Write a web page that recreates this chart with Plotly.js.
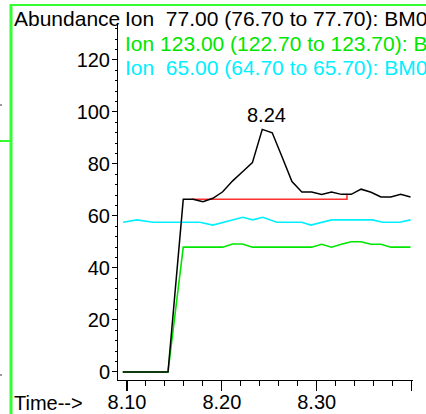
<!DOCTYPE html>
<html>
<head>
<meta charset="utf-8">
<script src="https://cdn.plot.ly/plotly-3.0.1.min.js"></script>
<style>
html,body{margin:0;padding:0;background:#fff;overflow:hidden;}
#chart{width:426px;height:414px;}
</style>
</head>
<body>
<div id="chart"></div>
<script>
// Retention times (min) and abundances
var timeIon77 = [8.0955, 8.1432, 8.1593, 8.1697, 8.1801, 8.1905, 8.2009, 8.2114, 8.2218, 8.2322, 8.2426, 8.2531, 8.2635, 8.2739, 8.2843, 8.2947, 8.3052, 8.3156, 8.3260, 8.3364, 8.3468, 8.3573, 8.3677, 8.3781, 8.3885, 8.3989];
var abundIon77 = [0, 0, 66.4, 66.4, 65.5, 66.8, 69.3, 73.5, 77.0, 80.5, 93.3, 92.0, 82.7, 73.2, 69.2, 69.2, 68.3, 69.2, 68.3, 68.3, 70.3, 69.1, 67.3, 67.3, 68.3, 67.3];
var abundIon123 = [0, 0, 48.0, 48.0, 48.0, 48.0, 48.0, 49.2, 49.2, 48.0, 48.0, 48.0, 48.0, 48.0, 48.0, 48.0, 49.1, 48.0, 49.1, 50.1, 50.1, 49.1, 49.1, 48.0, 48.0, 48.0];
var timeIon65 = [8.0958, 8.1105, 8.1274, 8.1768, 8.1905, 8.2221, 8.2326, 8.2432, 8.2579, 8.2842, 8.2937, 8.3158, 8.3589, 8.3695, 8.3874, 8.3990];
var abundIon65 = [57.6, 58.5, 57.6, 57.6, 56.5, 59.5, 58.5, 59.5, 57.6, 57.6, 56.5, 58.5, 58.5, 57.6, 57.6, 58.5];
var baselineTime = [8.1681, 8.3319, 8.3319];
var baselineAbund = [66.4, 66.4, 68.3];
var peakTime = 8.2426, peakAbund = 93.3, peakLabel = "8.24";
var xTickVals = [8.10, 8.20, 8.30, 8.40];
var xTickText = ["8.10", "8.20", "8.30", ""];
var legendTexts = [
  "Ion\u00a0\u00a077.00 (76.70 to 77.70): BM0",
  "Ion 123.00 (122.70 to 123.70): B",
  "Ion\u00a0\u00a065.00 (64.70 to 65.70): BM0"
];
var legendColors = ["#000000", "#00e600", "#00f0ff"];

var FONT = "Liberation Sans, Arial, Helvetica, sans-serif";

var traces = [
  {x: timeIon65, y: abundIon65, mode: "lines", line: {color: "#00f0ff", width: 1.6}, hoverinfo: "skip"},
  {x: timeIon77, y: abundIon123, mode: "lines", line: {color: "#00e600", width: 1.6}, hoverinfo: "skip"},
  {x: baselineTime, y: baselineAbund, mode: "lines", line: {color: "#ff3030", width: 1.6}, hoverinfo: "skip"},
  {x: timeIon77, y: abundIon77, mode: "lines", line: {color: "#000000", width: 1.5}, hoverinfo: "skip"}
];

// paper coordinate helpers for the window chrome (plot area 118..413 x 23..380 px)
function px(x){ return (x - 118) / 295; }
function py(y){ return (380 - y) / 357; }

var annotations = [
  {xref: "paper", yref: "paper", x: px(12), y: py(18), xanchor: "left", yanchor: "middle",
   text: "Abundance", showarrow: false, font: {family: FONT, size: 21, color: "#000"}},
  {xref: "paper", yref: "paper", x: px(12), y: py(403), xanchor: "left", yanchor: "middle",
   text: "Time-->", showarrow: false, font: {family: FONT, size: 20, color: "#000"}},
  {x: peakTime, y: peakAbund, xref: "x", yref: "y", xanchor: "center", yanchor: "bottom",
   text: peakLabel, showarrow: false, xshift: 4, yshift: 1, font: {family: FONT, size: 20, color: "#000"}}
];
var legendY = [18, 43, 67];
for (var i = 0; i < legendTexts.length; i++) {
  annotations.push({xref: "paper", yref: "paper", x: px(123), y: py(legendY[i]), xanchor: "left", yanchor: "middle",
    text: legendTexts[i], showarrow: false, font: {family: FONT, size: 21, color: legendColors[i]}});
}

var chromeGreen = "#33ff33";
var shapes = [
  {type: "line", xref: "paper", yref: "paper", x0: px(10), x1: px(430), y0: py(5), y1: py(5), line: {color: chromeGreen, width: 2}},
  {type: "line", xref: "paper", yref: "paper", x0: px(11), x1: px(11), y0: py(4), y1: py(416), line: {color: chromeGreen, width: 3}},
  {type: "line", xref: "paper", yref: "paper", x0: px(-2), x1: px(10), y0: py(141), y1: py(141), line: {color: chromeGreen, width: 2}},
  {type: "rect", xref: "paper", yref: "paper", x0: px(0), x1: px(2), y0: py(104), y1: py(106), line: {width: 0}, fillcolor: "#999"},
  {type: "rect", xref: "paper", yref: "paper", x0: px(0), x1: px(2), y0: py(374), y1: py(376), line: {width: 0}, fillcolor: "#999"}
];

var layout = {
  width: 426, height: 414,
  margin: {l: 118, r: 13, t: 23, b: 34, pad: 0},
  paper_bgcolor: "#ffffff", plot_bgcolor: "#ffffff",
  showlegend: false,
  font: {family: FONT, size: 20, color: "#000"},
  xaxis: {
    range: [8.0905, 8.4015], showgrid: false, zeroline: false,
    showline: true, linecolor: "#000", linewidth: 1,
    tickmode: "array", tickvals: xTickVals, ticktext: xTickText,
    ticks: "outside", ticklen: 10, tickwidth: 1.2, tickcolor: "#000",
    ticklabelstandoff: -6,
    minor: {tickmode: "linear", tick0: 8.10, dtick: 0.02, ticks: "outside", ticklen: 5, tickwidth: 1, tickcolor: "#000"},
    tickfont: {family: FONT, size: 20, color: "#000"}
  },
  yaxis: {
    range: [-3.08, 134.2], showgrid: false, zeroline: false,
    showline: true, linecolor: "#000", linewidth: 1,
    tickmode: "linear", tick0: 0, dtick: 20,
    ticks: "outside", ticklen: 5, tickwidth: 1, tickcolor: "#000",
    ticklabelstandoff: -2,
    minor: {tickmode: "linear", tick0: 0, dtick: 4, ticks: "outside", ticklen: 2, tickwidth: 1, tickcolor: "#000"},
    tickfont: {family: FONT, size: 20, color: "#000"}
  },
  annotations: annotations,
  shapes: shapes
};

Plotly.newPlot("chart", traces, layout, {staticPlot: true, displayModeBar: false});
</script>
</body>
</html>
